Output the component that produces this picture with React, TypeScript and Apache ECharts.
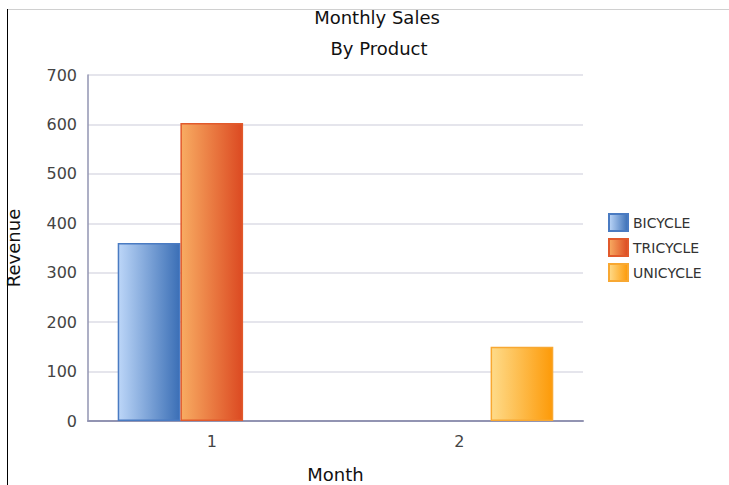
import React, { useEffect, useRef } from "react";
import * as echarts from "echarts";

const months = ["1", "2"];
const bicycle = [360, null];
const tricycle = [603, null];
const unicycle = [null, 150];
const yTicks = { min: 0, max: 700, interval: 100 };

const FONT = "DejaVu Sans";

function grad(a: string, b: string) {
  return new echarts.graphic.LinearGradient(0, 0, 1, 0, [
    { offset: 0, color: a },
    { offset: 1, color: b },
  ]);
}

export default function App() {
  const ref = useRef<HTMLDivElement>(null);
  useEffect(() => {
    if (!ref.current) return;
    const chart = echarts.init(ref.current, undefined, { renderer: "svg" });
    const series = [
      { name: "BICYCLE", data: bicycle, c1: "#bcd6f8", c2: "#3b6fb6", border: "#4a7bc2" },
      { name: "TRICYCLE", data: tricycle, c1: "#f8ac62", c2: "#dc4a22", border: "#e15a2c" },
      { name: "UNICYCLE", data: unicycle, c1: "#fedb8a", c2: "#fd9a08", border: "#f8a832" },
    ];
    chart.setOption({
      animation: false,
      backgroundColor: "#ffffff",
      title: [
        {
          text: "Monthly Sales",
          left: 372,
          textAlign: "center",
          top: 3,
          textStyle: { fontFamily: FONT, fontSize: 18, fontWeight: "normal", color: "#111" },
        },
        {
          text: "By Product",
          left: 374,
          textAlign: "center",
          top: 34,
          textStyle: { fontFamily: FONT, fontSize: 18, fontWeight: "normal", color: "#111" },
        },
      ],
      graphic: [
        { type: "line", shape: { x1: 7, y1: 9.5, x2: 729, y2: 9.5 }, style: { stroke: "#d0d0d0", lineWidth: 1 } },
        { type: "line", shape: { x1: 7.5, y1: 9, x2: 7.5, y2: 485 }, style: { stroke: "#000", lineWidth: 1 } },
      ],
      legend: {
        orient: "vertical",
        left: 608,
        top: 213,
        padding: 0,
        itemWidth: 19,
        itemHeight: 17,
        itemGap: 6,
        icon: "rect",
        textStyle: { fontFamily: FONT, fontSize: 14, color: "#333" },
        data: series.map((s) => s.name),
      },
      grid: { left: 88, right: 146, top: 75, bottom: 64, containLabel: false, outerBoundsMode: "none" },
      xAxis: {
        type: "category",
        data: months,
        name: "Month",
        nameLocation: "middle",
        nameGap: 44,
        nameTextStyle: { fontFamily: FONT, fontSize: 18, color: "#111" },
        axisLine: { lineStyle: { color: "#9294b2", width: 2 } },
        axisTick: { show: false },
        axisLabel: { fontFamily: FONT, fontSize: 16, color: "#444", margin: 12 },
      },
      yAxis: {
        type: "value",
        min: yTicks.min,
        max: yTicks.max,
        interval: yTicks.interval,
        name: "Revenue",
        nameLocation: "middle",
        nameGap: 66,
        nameTextStyle: { fontFamily: FONT, fontSize: 18, color: "#111" },
        axisLine: { show: true, lineStyle: { color: "#9294b2", width: 1.5 } },
        axisTick: { show: false },
        axisLabel: { fontFamily: FONT, fontSize: 16, color: "#444", margin: 11 },
        splitLine: { lineStyle: { color: "#dcdde6", width: 1.5 } },
      },
      series: series.map((s) => ({
        type: "bar",
        name: s.name,
        data: s.data,
        barGap: "0%",
        barCategoryGap: "24%",
        itemStyle: { color: grad(s.c1, s.c2), borderColor: s.border, borderWidth: 1.5 },
      })),
    });
    return () => chart.dispose();
  }, []);
  return (
    <div
      ref={ref}
      style={{ position: "fixed", left: 0, top: 0, width: 729, height: 485 }}
    />
  );
}
